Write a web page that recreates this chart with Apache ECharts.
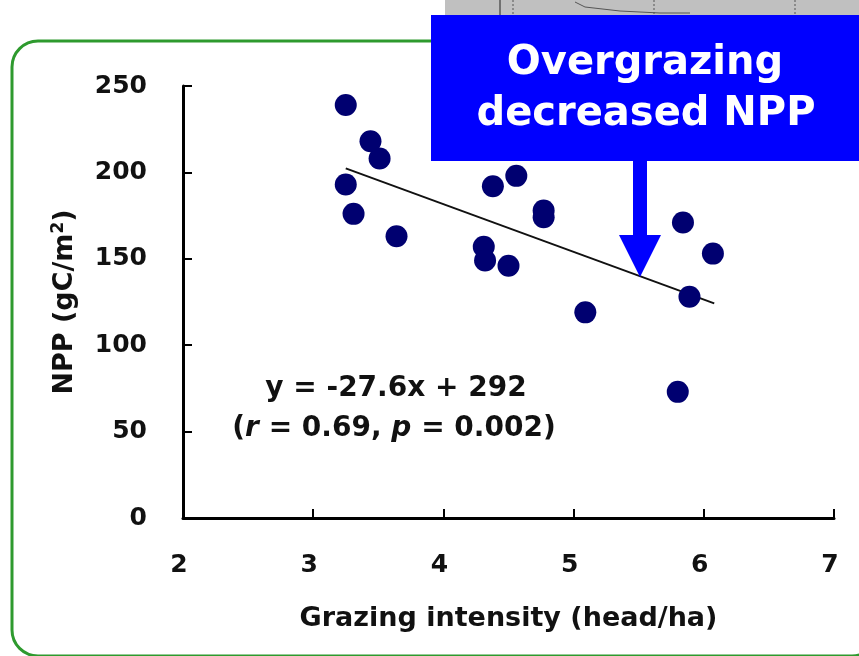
<!DOCTYPE html>
<html>
<head>
<meta charset="utf-8">
<script src="https://cdn.jsdelivr.net/npm/echarts@6/dist/echarts.min.js"></script>
<style>
html,body{margin:0;padding:0;background:#fff;}
#c{width:859px;height:656px;}
</style>
</head>
<body>
<div id="c"></div>
<script>
// Data
const grazing = [3.25, 3.44, 3.51, 3.25, 3.31, 3.64, 4.31, 4.32, 4.50, 4.38, 4.56, 4.77, 4.77, 5.09, 5.84, 6.07, 5.89, 5.80];
const npp     = [239, 218, 208, 193, 176, 163, 157, 149, 146, 192, 198, 178, 174, 119, 171, 153, 128, 73];
const xTicks = [2, 3, 4, 5, 6, 7];
const yTicks = [0, 50, 100, 150, 200, 250];
const fitSlope = -27.6;
const fitIntercept = 292;
const fitRange = [3.25, 6.08];

const points = grazing.map((x, i) => [x, npp[i]]);
const fitLine = fitRange.map(x => [x, fitSlope * x + fitIntercept]);

const FONT = 'DejaVu Sans';
const chart = echarts.init(document.getElementById('c'), null, {renderer: 'canvas'});
chart.setOption({
  backgroundColor: '#ffffff',
  animation: false,
  grid: {left: 183, top: 86, width: 651, height: 432},
  xAxis: {
    type: 'value', min: xTicks[0], max: xTicks[xTicks.length - 1], interval: 1,
    name: 'Grazing intensity (head/ha)', nameLocation: 'middle', nameGap: 87,
    nameTextStyle: {fontFamily: FONT, fontWeight: 'bold', fontSize: 27, color: '#111'},
    axisLine: {lineStyle: {color: '#000', width: 3}},
    axisTick: {inside: true, length: 9, lineStyle: {color: '#000', width: 2}},
    axisLabel: {fontFamily: FONT, fontWeight: 'bold', fontSize: 25, color: '#111', margin: 35, padding: [0, 8, 0, 0]},
    splitLine: {show: false}
  },
  yAxis: {
    type: 'value', min: yTicks[0], max: yTicks[yTicks.length - 1], interval: 50,
    name: '{a|NPP (gC/m}{s|2}{a|)}', nameLocation: 'middle', nameRotate: 90, nameGap: 104,
    nameTextStyle: {
      padding: [0, 0, 0, 0],
      rich: {
        a: {fontFamily: FONT, fontWeight: 'bold', fontSize: 27, color: '#111'},
        s: {fontFamily: FONT, fontWeight: 'bold', fontSize: 17, color: '#111', verticalAlign: 'top', padding: [0, 0, 12, 0]}
      }
    },
    axisLine: {show: true, lineStyle: {color: '#000', width: 3}},
    axisTick: {show: true, inside: true, length: 9, lineStyle: {color: '#000', width: 2}},
    axisLabel: {fontFamily: FONT, fontWeight: 'bold', fontSize: 25, color: '#111', margin: 36},
    splitLine: {show: false}
  },
  series: [
    {
      type: 'line', data: fitLine, symbol: 'none', z: 2,
      lineStyle: {color: '#111', width: 2}
    },
    {
      type: 'scatter', data: points, symbol: 'circle', symbolSize: 22, z: 3,
      itemStyle: {color: '#000070', opacity: 1}
    }
  ],
  graphic: [
    // green rounded frame
    {type: 'rect', z: -1, shape: {x: 12, y: 41, width: 866, height: 615, r: 26},
     style: {fill: 'none', stroke: '#2e9a2e', lineWidth: 3}},
    // gray fragment of another picture at top
    {type: 'rect', z: 5, shape: {x: 445, y: 0, width: 414, height: 16}, style: {fill: '#c0c0c0'}},
    {type: 'line', z: 6, shape: {x1: 500, y1: 0, x2: 500, y2: 16}, style: {stroke: '#222', lineWidth: 1}},
    {type: 'line', z: 6, shape: {x1: 513, y1: 0, x2: 513, y2: 16}, style: {stroke: '#555', lineWidth: 1, lineDash: [2, 2]}},
    {type: 'line', z: 6, shape: {x1: 654, y1: 0, x2: 654, y2: 16}, style: {stroke: '#555', lineWidth: 1, lineDash: [2, 2]}},
    {type: 'line', z: 6, shape: {x1: 795, y1: 0, x2: 795, y2: 16}, style: {stroke: '#555', lineWidth: 1, lineDash: [2, 2]}},
    {type: 'polyline', z: 6, shape: {points: [[575, 2], [585, 7], [620, 11], [660, 13], [690, 13]]}, style: {stroke: '#555', lineWidth: 1, fill: 'none'}},
    // blue callout box
    {type: 'rect', z: 10, shape: {x: 431, y: 15, width: 440, height: 146}, style: {fill: '#0000ff'}},
    {type: 'rect', z: 10, shape: {x: 633, y: 160, width: 14, height: 77}, style: {fill: '#0000ff'}},
    {type: 'polygon', z: 10, shape: {points: [[619, 235], [661, 235], [640, 277]]}, style: {fill: '#0000ff'}},
    {type: 'text', z: 11, x: 645, y: 64,
     style: {text: 'Overgrazing', fill: '#fff', fontFamily: FONT, fontWeight: 'bold', fontSize: 40, align: 'center', verticalAlign: 'middle'}},
    {type: 'text', z: 11, x: 646, y: 115,
     style: {text: 'decreased NPP', fill: '#fff', fontFamily: FONT, fontWeight: 'bold', fontSize: 40, align: 'center', verticalAlign: 'middle'}},
    // equation
    {type: 'text', z: 11, x: 396, y: 389,
     style: {text: 'y = -27.6x + 292', fill: '#111', fontFamily: FONT, fontWeight: 'bold', fontSize: 28, align: 'center', verticalAlign: 'middle'}},
    {type: 'text', z: 11, x: 394, y: 429,
     style: {
       text: '{n|(}{i|r}{n| = 0.69, }{i|p}{n| = 0.002)}', align: 'center', verticalAlign: 'middle',
       rich: {
         n: {fill: '#111', fontFamily: FONT, fontWeight: 'bold', fontSize: 28},
         i: {fill: '#111', fontFamily: FONT, fontWeight: 'bold', fontStyle: 'italic', fontSize: 28}
       }
     }}
  ]
});
</script>
</body>
</html>
